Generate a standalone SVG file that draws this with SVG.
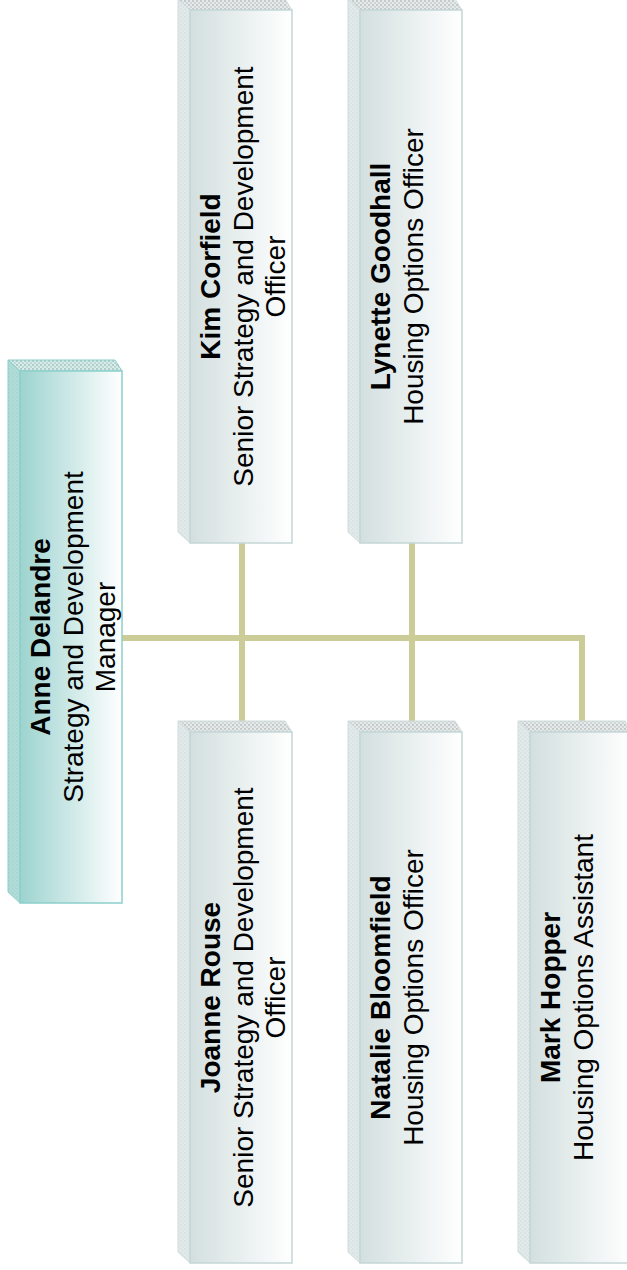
<svg xmlns="http://www.w3.org/2000/svg" width="627" height="1270" viewBox="0 0 627 1270">
<style>
text{font-family:"Liberation Sans",Arial,sans-serif;font-size:28px;fill:#000;text-anchor:middle}
.b{font-weight:bold}
.front{fill:url(#gGray);stroke:#c4d6d6;stroke-width:1.5}
.top{fill:url(#pGray);stroke:#d0dcdc;stroke-width:1}
.side{fill:url(#pSide);stroke:#d0dcdc;stroke-width:1}
.afront{fill:url(#gTeal);stroke:#8ccfca;stroke-width:1.5}
.atop{fill:url(#pTeal);stroke:#8ccfca;stroke-width:1}
.aside{fill:url(#pTealSide);stroke:#8ccfca;stroke-width:1}
.conn{fill:none;stroke:#cccc99;stroke-width:6}
</style>
<defs>
<linearGradient id="gGray" x1="0" y1="0" x2="1" y2="0">
<stop offset="0" stop-color="#d3dfdf"/>
<stop offset="1" stop-color="#ffffff"/>
</linearGradient>
<linearGradient id="gTeal" x1="0" y1="0" x2="1" y2="0">
<stop offset="0" stop-color="#9dd3cf"/>
<stop offset="1" stop-color="#ffffff"/>
</linearGradient>
<pattern id="pGray" width="4" height="4" patternUnits="userSpaceOnUse">
<rect width="4" height="4" fill="#e6eaea"/>
<circle cx="1" cy="1" r="0.9" fill="#b4baba"/>
<circle cx="3" cy="3" r="0.9" fill="#c4caca"/>
</pattern>
<pattern id="pSide" width="4" height="4" patternUnits="userSpaceOnUse">
<rect width="4" height="4" fill="#e2eaea"/>
<circle cx="1" cy="1" r="0.8" fill="#d0dada"/>
<circle cx="3" cy="3" r="0.8" fill="#d6dede"/>
</pattern>
<pattern id="pTeal" width="4" height="4" patternUnits="userSpaceOnUse">
<rect width="4" height="4" fill="#d8ecea"/>
<circle cx="1" cy="1" r="0.9" fill="#9cbcba"/>
<circle cx="3" cy="3" r="0.9" fill="#b0cccc"/>
</pattern>
<pattern id="pTealSide" width="4" height="4" patternUnits="userSpaceOnUse">
<rect width="4" height="4" fill="#b2dcd8"/>
<circle cx="1" cy="1" r="0.8" fill="#9ccfca"/>
<circle cx="3" cy="3" r="0.8" fill="#a6d4d0"/>
</pattern>
</defs>
<rect width="627" height="1270" fill="#ffffff"/>
<g id="connectors">
<path class="conn" d="M122,638 H582 V721"/>
<path class="conn" d="M242,543 V721"/>
<path class="conn" d="M412,543 V721"/>
</g>
<g id="anne">
<polygon class="atop" points="8,360 115,360 122,371 20,371"/>
<polygon class="aside" points="8,360 20,371 20,903 8,892"/>
<rect class="afront" x="20" y="371" width="102" height="532"/>
<g transform="translate(20,637) rotate(-90)">
<text class="b" x="0" y="30">Anne Delandre</text>
<text x="0" y="62.5">Strategy and Development</text>
<text x="0" y="95">Manager</text>
</g>
</g>
<g id="kim">
<polygon class="top" points="178,-1 285,-1 292,10 190,10"/>
<polygon class="side" points="178,-1 190,10 190,543 178,532"/>
<rect class="front" x="190" y="10" width="102" height="533"/>
<g transform="translate(190,276.5) rotate(-90)">
<text class="b" x="0" y="30">Kim Corfield</text>
<text x="0" y="62.5">Senior Strategy and Development</text>
<text x="0" y="95">Officer</text>
</g>
</g>
<g id="lynette">
<polygon class="top" points="348,-1 455,-1 462,10 360,10"/>
<polygon class="side" points="348,-1 360,10 360,543 348,532"/>
<rect class="front" x="360" y="10" width="102" height="533"/>
<g transform="translate(360,276.5) rotate(-90)">
<text class="b" x="0" y="30">Lynette Goodhall</text>
<text x="0" y="62.5">Housing Options Officer</text>
</g>
</g>
<g id="joanne">
<polygon class="top" points="178,721 285,721 292,732 190,732"/>
<polygon class="side" points="178,721 190,732 190,1263 178,1252"/>
<rect class="front" x="190" y="732" width="102" height="531"/>
<g transform="translate(190,997.5) rotate(-90)">
<text class="b" x="0" y="30">Joanne Rouse</text>
<text x="0" y="62.5">Senior Strategy and Development</text>
<text x="0" y="95">Officer</text>
</g>
</g>
<g id="natalie">
<polygon class="top" points="348,721 455,721 462,732 360,732"/>
<polygon class="side" points="348,721 360,732 360,1263 348,1252"/>
<rect class="front" x="360" y="732" width="102" height="531"/>
<g transform="translate(360,997.5) rotate(-90)">
<text class="b" x="0" y="30">Natalie Bloomfield</text>
<text x="0" y="62.5">Housing Options Officer</text>
</g>
</g>
<g id="mark">
<polygon class="top" points="518,721 625,721 632,732 530,732"/>
<polygon class="side" points="518,721 530,732 530,1263 518,1252"/>
<rect class="front" x="530" y="732" width="102" height="531"/>
<g transform="translate(530,997.5) rotate(-90)">
<text class="b" x="0" y="30">Mark Hopper</text>
<text x="0" y="62.5">Housing Options Assistant</text>
</g>
</g>
</svg>
